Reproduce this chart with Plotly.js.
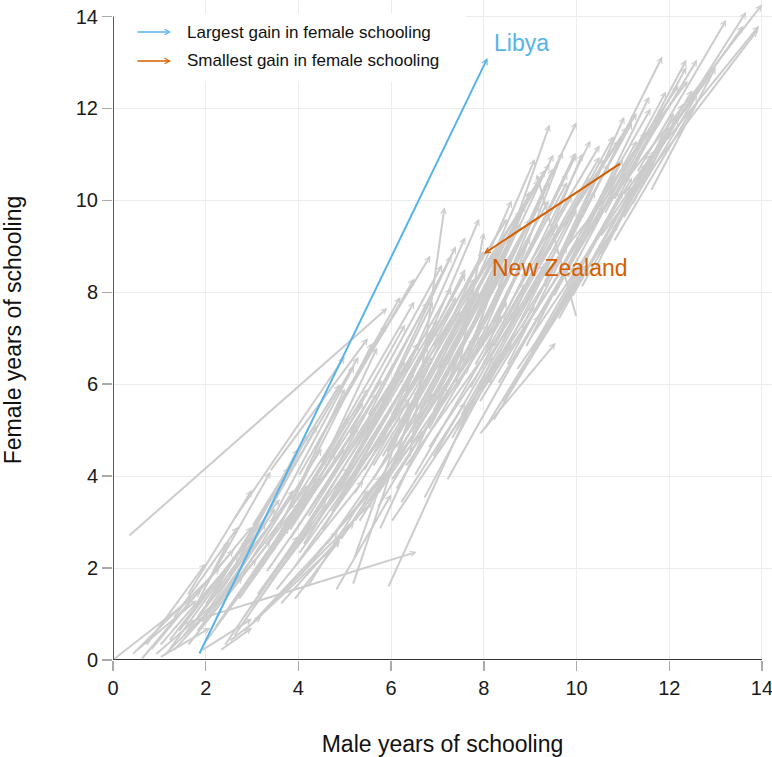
<!DOCTYPE html>
<html>
<head>
<meta charset="utf-8">
<script src="https://cdn.plot.ly/plotly-3.0.1.min.js"></script>
<style>html,body{margin:0;padding:0;background:#fff}#chart{width:772px;height:757px}</style>
</head>
<body>
<div id="chart"></div>
<script>
// Years of schooling, start -> end, one entry per country (grey arrows)
var maleStart = [0.0,0.4,0.6,0.8,0.9,1.0,1.1,1.2,1.3,1.5,1.6,0.7,1.8,2.0,2.2,2.4,0.5,1.4,2.6,1.9,1.44,1.0,2.3,2.5,0.32,2.8,3.0,3.2,1.7,2.0,
  2.7,2.9,3.1,3.3,3.5,3.7,3.2,2.5,2.2,2.0,3.9,4.1,4.0,4.3,3.6,4.5,2.6,3.38,4.72,4.8,5.17,5.2,5.93,5.75,7.9,6.4,2.9,3.0,3.4,3.8,
  4.2,4.4,4.6,4.8,5.0,5.2,5.4,5.6,5.8,6.0,6.2,6.4,6.6,6.8,7.0,4.9,5.3,5.7,6.1,6.5,6.9,7.3,7.2,6.7,4.5,4.0,3.6,5.1,5.5,6.3,
  7.0,7.3,7.6,7.8,8.0,8.2,8.4,8.6,8.8,9.0,7.5,7.1,6.9,6.8,6.6,7.7,8.1,8.5,8.9,9.2,9.5,9.8,10.0,7.4,6.2,5.8,8.7,8.4,8.0,10.2,
  9.6,10.0,10.3,10.1,10.6,10.8,10.9,11.0,11.3,11.5,11.7,11.2,9.8,10.5,10.4,10.7,9.7,9.4,9.1,8.8,8.3,8.0,10.9,11.2,10.6,11.4,
  3.5,4.7,5.9,7.5,6.0,7.0,8.2,6.2,4.2,2.4,1.8,3.0,3.9,5.0,4.4,7.7,8.3,9.3,10.4,9.0,2.8,1.6,6.0,7.2,
  3.0,3.4,3.8,4.2,4.6,5.0,5.4,5.8,6.2,6.6,7.0,7.4,2.4,2.8,3.4,4.0,4.6,5.2,5.7,6.3,6.8,7.4,7.9,8.6,9.4,9.9,10.5,11.0,11.6,
  2.0,1.3,3.6,4.3,5.3,6.4,
  7.2,7.6,8.0,8.4,8.9,9.3,9.7,8.2,7.8,6.9,6.5,6.1,5.6,5.1,4.7,4.2,3.8,3.3,2.8,2.3,1.9,1.2,5.5,6.0,7.6,8.3,9.0,9.6,10.1,10.8];
var femaleStart = [0.0,0.1,0.0,0.2,0.1,0.3,0.1,0.4,0.2,0.5,0.3,0.3,0.6,0.4,0.7,0.3,0.2,0.6,0.5,0.2,0.76,0.05,0.2,0.4,2.68,0.6,0.8,1.0,1.0,1.2,
  1.3,1.6,1.4,1.9,1.5,2.2,2.0,1.8,1.5,1.0,2.0,2.5,1.8,2.2,1.2,2.8,3.05,4.1,5.3,1.5,1.63,2.2,1.57,2.83,4.9,4.4,2.4,2.9,3.0,3.3,
  3.5,3.0,3.8,3.4,4.0,3.6,4.4,3.9,4.8,4.2,5.0,4.7,5.4,5.0,5.8,2.6,3.0,3.3,3.7,4.0,4.4,4.8,3.9,3.5,4.3,4.0,3.7,4.9,5.3,5.8,
  6.3,6.7,6.2,7.0,6.6,7.3,6.9,7.6,7.2,8.0,7.4,7.0,6.8,6.2,6.5,5.9,6.0,6.4,6.8,7.4,7.9,8.3,7.45,6.0,6.0,5.6,6.3,5.6,5.0,8.7,
  8.6,9.0,9.3,9.6,9.7,10.0,10.2,10.1,10.6,10.8,11.0,10.4,8.8,9.2,9.8,10.3,9.4,9.0,8.5,8.3,8.1,7.8,9.5,9.9,8.9,10.5,
  2.6,3.2,4.5,5.3,3.0,4.5,5.2,3.4,1.6,1.3,0.9,1.1,1.3,5.7,4.7,6.8,7.5,8.1,8.5,7.0,2.1,1.4,5.3,6.4,
  1.8,2.3,2.6,2.9,3.3,3.7,4.1,4.4,4.8,5.2,5.6,5.9,1.0,0.9,1.7,2.3,2.5,3.0,3.6,4.2,4.6,5.0,5.6,6.5,7.3,7.9,8.8,9.6,10.2,
  1.6,0.9,2.9,3.8,4.5,5.5,
  6.0,6.5,7.0,7.4,7.8,8.2,8.6,6.8,6.4,5.4,5.0,4.6,4.2,3.8,3.4,3.1,2.8,2.5,1.9,1.3,0.8,0.2,3.4,3.9,5.4,6.0,6.7,7.4,8.1,9.1];
var maleEnd = [1.9,2.3,2.6,3.0,2.5,3.3,2.8,3.6,3.1,3.9,3.4,2.0,4.2,3.8,4.5,4.0,1.8,2.9,4.3,3.0,6.55,2.1,3.0,3.2,5.92,4.9,4.85,5.6,2.5,3.6,
  5.0,5.3,5.1,5.7,5.4,6.0,4.6,4.0,3.8,3.5,6.2,6.5,5.8,6.72,5.2,6.8,5.0,5.5,6.85,6.0,6.6,6.4,8.2,7.2,9.55,7.15,4.4,4.9,5.2,5.6,
  6.3,6.6,6.8,7.0,7.3,7.5,7.6,7.9,8.0,8.2,8.4,8.6,8.8,9.0,9.2,7.4,7.8,8.1,8.5,8.9,9.3,9.6,9.2,8.3,6.5,5.9,5.3,7.1,7.4,7.9,
  8.6,9.1,9.4,9.42,9.7,9.98,10.13,10.5,10.7,11.08,9.42,9.33,9.2,8.9,8.5,9.6,10.0,10.4,10.8,11.0,11.3,11.5,9.14,8.0,7.6,7.3,10.9,10.6,10.2,11.8,
  11.03,11.57,11.93,11.85,12.37,12.37,12.6,12.9,13.23,13.6,13.66,13.94,14.0,13.9,12.2,12.4,11.3,11.1,10.9,10.5,10.0,9.5,12.1,12.3,12.0,12.5,
  5.5,6.9,7.7,9.4,8.6,9.1,10.1,7.6,5.5,4.0,3.3,4.6,4.89,6.5,6.2,9.0,9.8,10.6,11.6,11.2,4.2,3.0,7.6,8.8,
  5.4,5.8,6.3,6.6,7.0,7.4,7.8,8.2,8.6,9.0,9.4,9.8,4.8,4.6,5.9,6.4,6.9,7.6,8.0,8.7,9.1,9.7,10.1,10.6,11.2,11.7,12.2,12.6,13.0,
  3.4,2.7,5.0,5.7,6.9,8.0,
  9.0,9.5,10.0,10.3,10.8,11.2,11.6,10.3,9.9,8.9,8.5,8.1,7.7,7.2,6.8,6.2,5.7,5.1,4.5,3.9,3.5,2.7,7.9,8.4,9.8,10.4,11.0,11.5,11.9,12.5];
var femaleEnd = [1.5,2.0,2.4,2.9,1.5,3.0,1.8,3.5,2.2,3.6,2.6,2.1,3.8,2.9,4.0,2.7,1.3,2.6,3.0,0.9,2.35,0.7,0.7,0.95,7.66,2.6,2.8,3.45,2.6,3.8,
  4.6,5.1,4.2,5.4,3.9,5.8,4.4,4.6,4.2,3.3,5.3,6.3,4.0,5.0,3.0,6.6,6.6,7.0,8.8,3.6,5.9,5.6,6.6,6.0,6.9,9.85,5.1,6.0,6.4,6.9,
  7.3,6.9,7.8,7.2,8.1,7.6,8.4,8.0,8.9,8.3,9.1,8.8,9.5,9.2,9.9,6.5,7.0,7.3,7.8,8.2,8.6,9.0,7.5,6.5,7.8,7.3,6.6,8.6,9.0,9.6,
  10.0,10.9,10.4,11.65,11.06,11.04,11.02,10.95,10.8,10.62,10.8,10.67,10.45,9.9,9.6,9.5,9.8,10.2,10.5,10.9,11.3,11.5,10.57,9.3,9.2,8.8,9.5,9.1,8.6,11.8,
  11.82,12.26,12.37,13.13,13.06,12.9,13.06,12.74,13.93,13.8,14.1,13.8,14.26,13.7,12.5,12.6,11.9,11.6,11.3,11.2,11.7,11.0,11.9,12.1,11.6,12.4,
  5.9,6.6,7.9,8.7,6.9,7.7,8.4,5.6,3.7,3.4,3.0,3.4,2.61,8.3,7.9,10.2,10.6,10.9,11.0,10.3,4.9,3.7,8.5,9.8,
  5.6,6.1,6.5,6.9,7.4,7.9,8.3,8.7,9.2,9.6,10.0,10.4,4.5,3.5,5.0,5.7,5.8,6.6,7.0,7.6,8.1,8.5,9.2,9.9,10.5,11.1,11.8,12.3,12.9,
  4.1,2.9,5.9,6.8,7.8,8.9,
  10.2,10.7,11.0,11.3,11.4,11.7,12.0,10.5,10.1,9.0,8.6,8.2,7.7,7.2,6.8,6.3,5.8,5.3,4.6,3.7,3.1,2.3,7.1,7.5,9.0,9.5,10.2,10.8,11.4,12.0];

// Highlighted countries: [maleStart, femaleStart, maleEnd, femaleEnd]
var libya = [1.85, 0.11, 8.08, 13.1];
var newZealand = [10.97, 10.82, 8.0, 8.84];
var xTicks = [0, 2, 4, 6, 8, 10, 12, 14];
var yTicks = [0, 2, 4, 6, 8, 10, 12, 14];
var legendLabels = ["Largest gain in female schooling", "Smallest gain in female schooling"];

var GREY = "#cccccc", BLUE = "#56B4E9", ORANGE = "#D55E00";
var FONT = "Liberation Sans, Arial, sans-serif";

function arrow(m0, f0, m1, f1, color, width, size) {
  return {x: m1, y: f1, ax: m0, ay: f0, xref: "x", yref: "y", axref: "x", ayref: "y",
    text: "", showarrow: true, arrowhead: 5, arrowsize: size, arrowwidth: width,
    arrowcolor: color, standoff: 0, startstandoff: 0};
}

var annotations = [];
for (var i = 0; i < maleStart.length; i++) {
  annotations.push(arrow(maleStart[i], femaleStart[i], maleEnd[i], femaleEnd[i], GREY, 2, 0.55));
}
annotations.push(arrow(libya[0], libya[1], libya[2], libya[3], BLUE, 2, 0.55));
annotations.push(arrow(newZealand[0], newZealand[1], newZealand[2], newZealand[3], ORANGE, 2, 0.55));
annotations.push({x: libya[2], y: libya[3], xref: "x", yref: "y", text: "Libya", showarrow: false,
  xanchor: "left", yanchor: "bottom", xshift: 4, yshift: 0, font: {family: FONT, size: 23, color: BLUE}});
annotations.push({x: newZealand[2], y: newZealand[3], xref: "x", yref: "y", text: "New Zealand", showarrow: false,
  xanchor: "left", yanchor: "top", xshift: 6, yshift: 1, font: {family: FONT, size: 23, color: ORANGE}});

// legend (arrows + labels)
var legColors = [BLUE, ORANGE];
var legY = [0.9515, 0.9076];
for (var k = 0; k < 2; k++) {
  annotations.push({x: 0.088, y: legY[k], xref: "paper", yref: "paper", ax: -35, ay: 0,
    text: "", showarrow: true, arrowhead: 5, arrowsize: 0.7, arrowwidth: 1.5, arrowcolor: legColors[k],
    standoff: 0, startstandoff: 0});
  annotations.push({x: 0.1095, y: legY[k], xref: "paper", yref: "paper", text: legendLabels[k],
    showarrow: false, xanchor: "left", yanchor: "middle", font: {family: FONT, size: 17, color: "#111"}});
}

var trace = {x: maleEnd.concat(maleStart), y: femaleEnd.concat(femaleStart), type: "scatter", mode: "markers",
  marker: {opacity: 0, size: 1}, hoverinfo: "skip", showlegend: false};

var axisCommon = {
  showgrid: true, gridcolor: "#ececec", gridwidth: 1, zeroline: false, showline: false,
  ticks: "outside", ticklen: 10, tickwidth: 1.5, tickcolor: "#aaaaaa", ticklabeloverflow: "allow",
  tickfont: {family: FONT, size: 20, color: "#1a1a1a"}, tickmode: "array", fixedrange: true
};

var layout = {
  width: 772, height: 757,
  margin: {l: 113, r: 0, t: 0, b: 97},
  paper_bgcolor: "#ffffff", plot_bgcolor: "#ffffff",
  showlegend: false,
  xaxis: Object.assign({}, axisCommon, {range: [0, 14.216], tickvals: xTicks, ticktext: xTicks.map(String),
    title: {text: "Male years of schooling", font: {family: FONT, size: 23, color: "#111"}, standoff: 37}}),
  yaxis: Object.assign({}, axisCommon, {range: [0, 14.36], tickvals: yTicks, ticktext: yTicks.map(String),
    title: {text: "Female years of schooling", font: {family: FONT, size: 23, color: "#111"}, standoff: 48}}),
  shapes: [
    {type: "rect", xref: "paper", yref: "paper", x0: 0.002, x1: 0.536, y0: 0.876, y1: 0.979,
      fillcolor: "#ffffff", line: {width: 0}, layer: "above"},
    {type: "line", xref: "x", yref: "y", x0: 0, x1: 0, y0: 0, y1: 14, line: {color: "#222222", width: 1.5}, layer: "above"},
    {type: "line", xref: "x", yref: "y", x0: 0, x1: 14, y0: 0, y1: 0, line: {color: "#333333", width: 2}, layer: "above"}
  ],
  annotations: annotations
};

Plotly.newPlot("chart", [trace], layout, {displayModeBar: false, staticPlot: true});
</script>
</body>
</html>
